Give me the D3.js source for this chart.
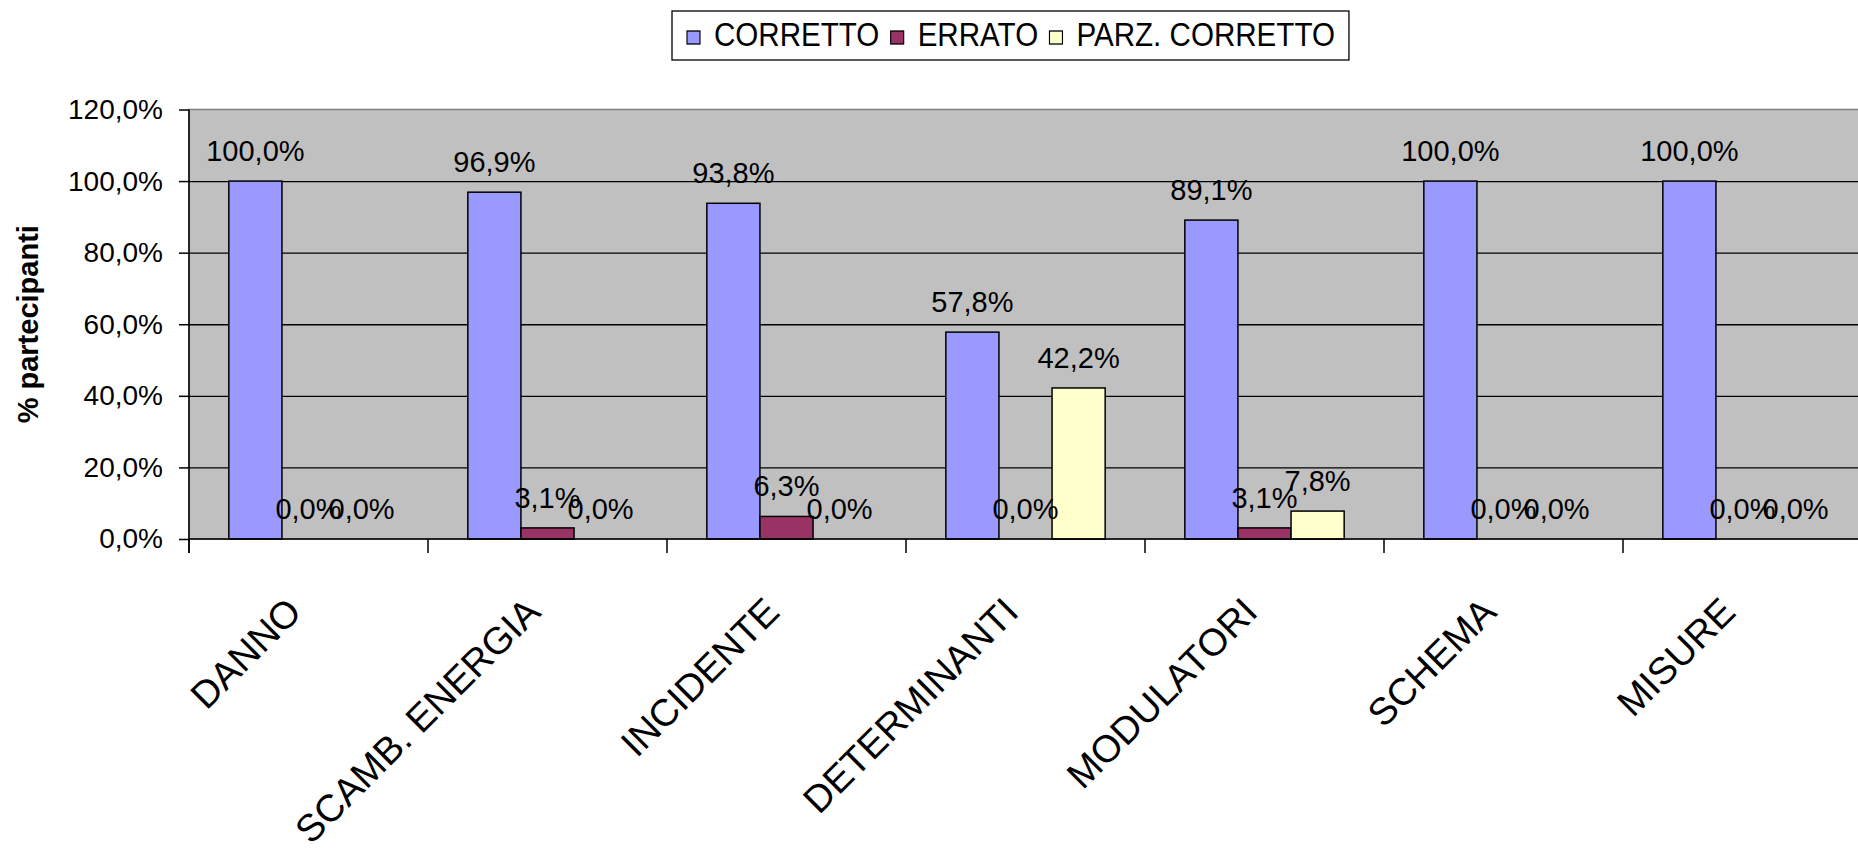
<!DOCTYPE html>
<html>
<head>
<meta charset="utf-8">
<script src="https://cdn.jsdelivr.net/npm/d3@7"></script>
<style>
  body { margin: 0; background: #fff; }
  svg { display: block; font-family: "Liberation Sans", Arial, sans-serif; }
</style>
</head>
<body>
<div id="chart"></div>
<script>
// data
const categories = ["DANNO", "SCAMB. ENERGIA", "INCIDENTE", "DETERMINANTI", "MODULATORI", "SCHEMA", "MISURE"];
const seriesNames = ["CORRETTO", "ERRATO", "PARZ. CORRETTO"];
const corretto = [100.0, 96.9, 93.8, 57.8, 89.1, 100.0, 100.0];
const errato = [0.0, 3.1, 6.3, 0.0, 3.1, 0.0, 0.0];
const parzCorretto = [0.0, 0.0, 0.0, 42.2, 7.8, 0.0, 0.0];
const yTicks = [0, 20, 40, 60, 80, 100, 120];
const seriesColors = ["#9999FF", "#993366", "#FFFFCC"];

const width = 1858, height = 857;
const plot = { left: 189, right: 1862, top: 109.5, bottom: 539 };

const svg = d3.select("#chart").append("svg")
  .attr("width", width)
  .attr("height", height);

const fmt = (v) => d3.format(".1f")(v).replace(".", ",") + "%";

const x0 = d3.scaleBand().domain(categories).range([plot.left, plot.right]).padding(0);
const cw = x0.bandwidth();
// excel gap width 150%: three bars centered in the category
const x1 = d3.scaleBand().domain(seriesNames).range([cw / 6, cw * 5 / 6]).padding(0);
const y = d3.scaleLinear().domain([0, 120]).range([plot.bottom, plot.top]);
const color = d3.scaleOrdinal().domain(seriesNames).range(seriesColors);

const rows = categories.map((c, i) => ({
  cat: c,
  values: [
    { s: seriesNames[0], v: corretto[i] },
    { s: seriesNames[1], v: errato[i] },
    { s: seriesNames[2], v: parzCorretto[i] },
  ],
}));

// plot background
svg.append("rect")
  .attr("x", plot.left)
  .attr("y", plot.top)
  .attr("width", plot.right - plot.left)
  .attr("height", plot.bottom - plot.top)
  .attr("fill", "#C0C0C0")
  .attr("stroke", "#808080")
  .attr("stroke-width", 1.5);

// gridlines
svg.append("g")
  .attr("transform", `translate(${plot.left},0)`)
  .call(d3.axisLeft(y).tickValues(yTicks.slice(1, -1)).tickSize(-(plot.right - plot.left)).tickFormat(""))
  .call((g) => g.select(".domain").remove())
  .call((g) => g.selectAll("line").attr("stroke", "#000").attr("stroke-width", 1.3));

// bars
const groups = svg.append("g")
  .selectAll("g")
  .data(rows)
  .join("g")
  .attr("transform", (d) => `translate(${x0(d.cat)},0)`);

groups.selectAll("rect")
  .data((d) => d.values)
  .join("rect")
  .attr("x", (d) => x1(d.s))
  .attr("y", (d) => y(d.v))
  .attr("width", x1.bandwidth())
  .attr("height", (d) => y(0) - y(d.v))
  .attr("fill", (d) => color(d.s))
  .attr("stroke", (d) => (d.v > 0 ? "#000" : "none"))
  .attr("stroke-width", 1.5);

groups.selectAll("text")
  .data((d) => d.values)
  .join("text")
  .attr("x", (d) => x1(d.s) + x1.bandwidth() / 2)
  .attr("y", (d) => y(d.v) - 20)
  .attr("text-anchor", "middle")
  .attr("font-size", 29)
  .attr("fill", "#000")
  .text((d) => fmt(d.v));

// y axis
const yAxis = svg.append("g")
  .attr("transform", `translate(${plot.left},0)`)
  .call(d3.axisLeft(y).tickValues(yTicks).tickSize(10).tickPadding(16).tickFormat(fmt));
yAxis.select(".domain").attr("stroke", "#000").attr("stroke-width", 1.5)
  .attr("d", `M0,${plot.top}V${plot.bottom + 14}`);
yAxis.selectAll("line").attr("stroke", "#000").attr("stroke-width", 1.5);
yAxis.selectAll("text")
  .attr("font-size", 28)
  .attr("font-family", "Liberation Sans, Arial, sans-serif")
  .attr("fill", "#000");

// x axis line and boundary ticks
svg.append("line")
  .attr("x1", plot.left).attr("x2", plot.right)
  .attr("y1", y(0)).attr("y2", y(0))
  .attr("stroke", "#000").attr("stroke-width", 1.5);

svg.append("g")
  .selectAll("line")
  .data(categories.map((c) => x0(c)).concat([plot.right]))
  .join("line")
  .attr("x1", (d) => d).attr("x2", (d) => d)
  .attr("y1", y(0)).attr("y2", y(0) + 14)
  .attr("stroke", "#000").attr("stroke-width", 1.5);

// category labels
svg.append("g")
  .selectAll("text")
  .data(categories)
  .join("text")
  .attr("transform", (d) => `translate(${x0(d) + cw / 2 - 5},${plot.bottom + 75}) rotate(-45)`)
  .attr("text-anchor", "end")
  .attr("font-size", 38)
  .attr("fill", "#000")
  .text((d) => d);

// y title
svg.append("text")
  .attr("transform", `translate(38,${(plot.top + plot.bottom) / 2}) rotate(-90)`)
  .attr("text-anchor", "middle")
  .attr("font-size", 29)
  .attr("font-weight", "bold")
  .attr("fill", "#000")
  .text("% partecipanti");

// legend
const legend = svg.append("g");
const legendItems = legend.append("g")
  .attr("transform", "translate(687,0) scale(0.87,1)");
let lx = 0;
seriesNames.forEach((s, i) => {
  const item = legendItems.append("g").attr("transform", `translate(${lx},0)`);
  item.append("rect")
    .attr("x", 0).attr("y", 31)
    .attr("width", 13 / 0.87).attr("height", 13)
    .attr("fill", color(s))
    .attr("stroke", "#000")
    .attr("stroke-width", 1.3);
  const t = item.append("text")
    .attr("x", 31)
    .attr("y", 46.5)
    .attr("font-size", 34)
    .attr("fill", "#000")
    .text(s);
  lx += 31 + t.node().getComputedTextLength() + 13;
});
const lb = legendItems.node().getBBox();
legend.insert("rect", ":first-child")
  .attr("x", 672)
  .attr("y", 11)
  .attr("width", 687 - 672 + (lb.x + lb.width) * 0.87 + 14)
  .attr("height", 49)
  .attr("fill", "#fff")
  .attr("stroke", "#000")
  .attr("stroke-width", 1.3);
</script>
</body>
</html>
